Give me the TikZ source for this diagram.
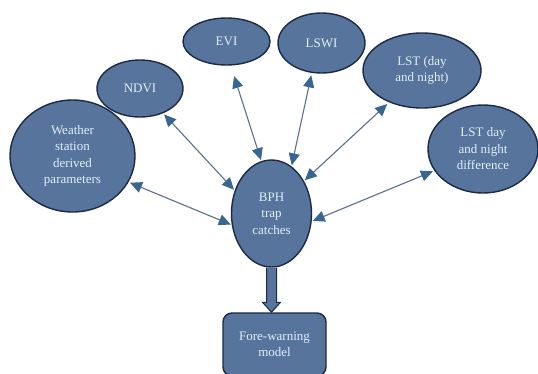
\documentclass[tikz,border=0pt]{standalone}
\usepackage{fontspec}
\setmainfont{Liberation Serif}
\usetikzlibrary{shapes.geometric,arrows.meta,calc}

\definecolor{boxfill}{HTML}{56749C}
\definecolor{boxedge}{HTML}{1C2A45}
\definecolor{linkcol}{HTML}{5E6F8A}
\definecolor{tipcol}{HTML}{386690}
\definecolor{txtcol}{HTML}{E2EFF8}

\begin{document}
\begin{tikzpicture}[x=1pt,y=-1pt,
    factor/.style={ellipse, draw=boxedge, line width=1.4pt, fill=boxfill,
        inner sep=0pt, align=center, text=txtcol,
        font=\fontsize{13}{16.5}\selectfont},
    model/.style={rectangle, rounded corners=9pt, draw=boxedge, line width=1.4pt,
        fill=boxfill, inner sep=0pt, align=center, text=txtcol,
        font=\fontsize{13}{16.5}\selectfont},
    link/.style={draw=linkcol, line width=1.1pt,
        {Triangle[length=12pt,width=11pt,color=tipcol]}-{Triangle[length=12pt,width=11pt,color=tipcol]},
        shorten <=1.5pt, shorten >=1pt},
    blockarrow/.style={draw=boxedge, line width=1pt, fill=boxfill, line join=miter}]

    \useasboundingbox (0,0) rectangle (538,373);
    \fill[white] (0,0) rectangle (538,373);

    % centre
    \node[factor, minimum width=80pt, minimum height=107pt] (bph) at (271.5,213.5) {BPH\\trap\\catches};

    % factors
    \node[factor, minimum width=125pt, minimum height=112pt] (wsp) at (72.5,156) {Weather\\station\\derived\\parameters};
    \node[factor, minimum width=86pt, minimum height=57pt] (ndvi) at (140,88.5) {NDVI};
    \node[factor, minimum width=87pt, minimum height=47pt] (evi) at (226.5,41.5) {EVI};
    \node[factor, minimum width=87pt, minimum height=60pt] (lswi) at (321.5,43) {LSWI};
    \node[factor, minimum width=118pt, minimum height=75pt] (lst) at (422,70.5) {LST (day\\and night)};
    \node[factor, minimum width=110pt, minimum height=88pt] (lstd) at (483,149) {LST day\\and night\\difference};

    % model
    \node[model, minimum width=103pt, minimum height=63pt] (fw) at (274.5,344.5) {Fore-warning\\model};

    % links
    \draw[link] (wsp.335) -- (bph.196);
    \draw[link] (ndvi.313) -- (bph.148);
    \draw[link, shorten <=11pt] (evi.280) -- (bph.101);
    \draw[link, shorten <=2.5pt] (lswi.252) -- (bph.67);
    \draw[link, shorten <=2.5pt] (lst.224) -- (bph.45);
    \draw[link] (lstd.204) -- (bph.349);

    % output
    \coordinate (tip) at (bph.south |- fw.north);
    \draw[blockarrow] ($(bph.south)+(-5,0)$) -- ($(tip)+(-5,-10)$) -- ($(tip)+(-9,-10)$)
        -- (tip) -- ($(tip)+(9,-10)$) -- ($(tip)+(5,-10)$) -- ($(bph.south)+(5,0)$);

\end{tikzpicture}
\end{document}
